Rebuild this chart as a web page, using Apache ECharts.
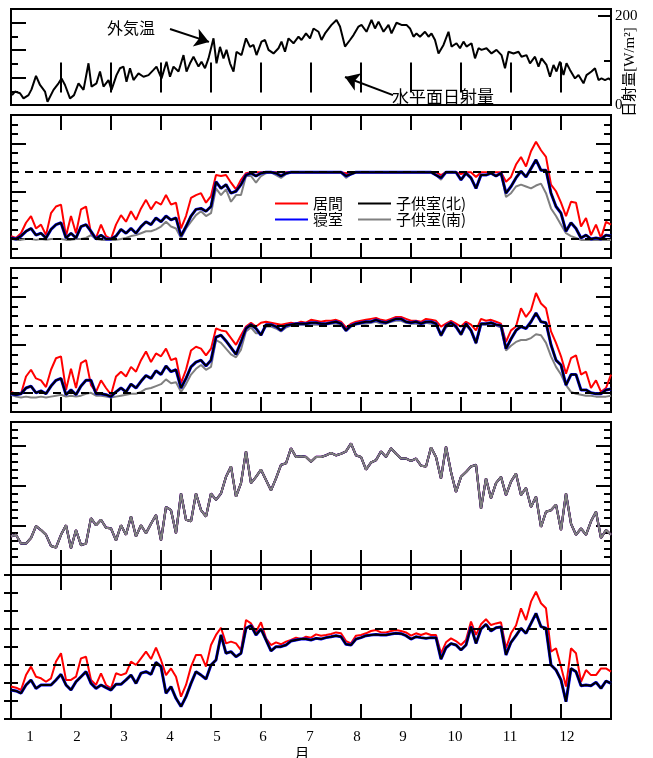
<!DOCTYPE html>
<html><head><meta charset="utf-8">
<script src="https://cdn.jsdelivr.net/npm/echarts@6/dist/echarts.min.js"></script>
<style>html,body{margin:0;padding:0;background:#fff}#chart{width:653px;height:758px}</style>
</head><body><div id="chart"></div>
<script>
// ---------------- DATA ----------------
const monthLabels = ['1','2','3','4','5','6','7','8','9','10','11','12'];
const monthLabelPos = [0.38,1.32,2.26,3.18,4.12,5.04,5.98,6.92,7.84,8.88,9.98,11.12];
const seriesNames = ['居間','寝室','子供室(北)','子供室(南)'];

// panel 1 : outdoor temperature (month position, value)
const tempMonths = [0.02,0.08,0.18,0.25,0.35,0.41,0.50,0.58,0.68,0.73,0.85,0.95,1.01,1.08,1.18,1.26,1.35,1.45,1.55,1.61,1.71,1.78,1.85,1.95,2.01,2.11,2.18,2.25,2.31,2.38,2.45,2.55,2.65,2.75,2.85,2.91,3.01,3.11,3.18,3.25,3.35,3.45,3.51,3.58,3.65,3.75,3.81,3.88,3.95,4.05,4.11,4.18,4.25,4.31,4.38,4.45,4.51,4.61,4.70,4.78,4.85,4.91,5.01,5.08,5.15,5.25,5.35,5.41,5.48,5.55,5.65,5.75,5.81,5.90,5.98,6.05,6.15,6.21,6.28,
 6.41,6.51,6.58,6.68,6.78,6.85,6.95,7.01,7.11,7.21,7.28,7.35,7.45,7.55,7.61,7.71,7.81,7.91,7.98,8.05,8.11,8.18,8.28,8.35,8.41,8.48,8.55,8.65,8.75,8.81,8.91,8.98,9.05,9.11,9.21,9.28,9.35,9.41,9.51,9.61,9.71,9.81,9.88,9.95,10.05,10.15,10.21,10.31,10.38,10.48,10.55,10.61,10.71,10.78,10.85,10.91,10.98,11.05,11.11,11.18,11.28,11.35,11.45,11.51,11.61,11.68,11.75,11.81,11.88,11.95,12.0];
const outdoorTemp = [-6.4,-5.1,-5.7,-7.6,-6.4,-4.3,0.6,-2.7,-5.1,-8.8,-4.5,-2.1,-0.3,-2.7,-7.6,-6.4,-2.1,-4.5,5.2,-3.3,-2.1,2.2,-3.3,-0.9,-4.5,0.9,3.4,4.0,-1.5,3.4,-0.9,1.5,0.3,0.9,2.8,4.0,-0.3,5.8,0.3,4.0,2.2,8.2,2.2,5.2,7.6,4.0,5.8,3.4,7.0,14.3,5.2,11.2,7.0,10.1,5.2,2.2,9.4,8.2,14.3,11.2,11.9,8.2,13.1,13.7,10.1,8.8,10.7,13.1,9.4,14.3,12.5,14.9,13.7,16.1,14.3,17.9,16.7,13.7,16.1,
 19.2,21.0,18.6,11.3,13.7,15.5,18.6,19.2,16.7,21.0,17.9,20.4,16.7,19.2,16.1,20.0,19.2,19.2,17.9,14.9,16.1,14.9,16.7,14.9,16.1,13.7,8.8,11.9,16.7,11.3,12.5,10.7,13.1,11.3,12.5,7.0,10.7,10.1,10.7,8.8,10.1,8.2,3.4,9.4,8.8,9.4,7.6,8.2,5.2,7.6,4.0,7.0,4.6,0.3,4.6,2.2,5.8,0.9,5.2,2.8,-0.3,0.9,-2.1,0.9,2.2,3.4,-0.9,-0.3,-0.9,-0.3,-0.9];

// panels 2-5 sampled every 0.1 month (121 samples)
const tempA_living = [20.3,20.1,20.6,21.7,22.4,21.1,21.5,20.4,22.7,23.4, 23.6,20.3,22.4,20.6,23.1,23.4,20.6,20.1,21.5,20.3, 20.0,21.5,22.5,21.8,22.9,22.0,23.2,24.1,23.1,23.9, 23.6,24.6,23.6,23.8,21.1,22.4,24.3,24.6,24.8,23.8, 24.5,26.7,26.6,26.7,25.9,25.2,26.2,26.9,27.0,27.0,
 27.0,27.0,27.0,27.0,27.0,27.0,27.0,27.0,27.0,27.0, 27.0,27.0,27.0,27.0,27.0,27.0,27.0,26.9,27.0,27.0, 27.0,27.0,27.0,27.0,27.0,27.0,27.0,27.0,27.0,27.0, 27.0,27.0,27.0,27.0,27.0,27.0,26.7,27.0,27.0,27.0, 26.8,27.0,27.0,26.5,27.0,27.0,27.0,27.0,27.0,26.0,
 26.5,27.8,28.6,27.6,29.2,30.2,29.3,28.6,25.7,25.0, 23.8,22.4,23.9,23.8,21.3,22.2,20.4,21.5,20.1,21.8,21.5];
const tempA_childN = [20.1,20.0,20.3,20.8,21.1,20.4,20.6,20.1,21.0,21.5, 21.7,20.1,20.6,20.1,21.3,21.5,20.8,20.0,20.4,20.0, 20.0,20.3,21.0,20.6,21.1,20.6,21.3,21.8,21.5,22.2, 21.8,22.4,22.0,22.2,20.3,21.3,22.4,23.1,23.2,22.9, 23.4,26.0,25.3,25.7,24.8,25.0,25.7,26.7,26.9,26.6,
 26.9,27.0,27.0,26.9,26.6,26.9,27.0,27.0,27.0,27.0, 27.0,27.0,27.0,27.0,27.0,27.0,27.0,26.6,26.8,27.0, 27.0,27.0,27.0,27.0,27.0,27.0,27.0,27.0,27.0,27.0, 27.0,27.0,27.0,27.0,27.0,26.7,26.4,27.0,27.0,27.0, 26.2,26.9,26.4,25.3,26.7,26.7,26.9,26.6,26.9,24.8,
 25.5,26.4,27.1,26.5,27.4,28.3,27.2,27.2,24.8,23.4, 22.7,20.8,21.7,21.1,20.1,20.4,20.0,20.1,20.0,20.4,20.3];
const tempA_childS = [20.0,19.9,19.9,20.0,20.0,19.9,20.0,19.9,20.0,20.0, 20.0,19.9,19.9,20.0,20.0,20.1,20.4,20.0,19.9,19.9, 19.9,19.9,20.0,20.1,20.3,20.4,20.6,20.8,20.8,21.0, 21.3,21.8,21.3,21.1,20.1,21.1,21.8,22.5,22.9,22.4, 22.7,25.3,24.6,25.2,23.9,24.6,24.6,26.6,26.6,25.9,
 26.6,26.9,27.0,26.7,26.4,26.8,27.0,27.0,27.0,27.0, 27.0,27.0,27.0,27.0,27.0,27.0,27.0,26.4,26.8,27.0, 27.0,27.0,27.0,27.0,27.0,27.0,27.0,27.0,27.0,27.0, 27.0,27.0,27.0,27.0,27.0,26.7,26.2,27.0,27.0,27.0, 26.2,26.9,26.4,25.3,26.7,26.7,26.9,26.6,26.9,24.4,
 24.8,25.5,25.7,25.5,25.3,25.6,25.8,24.8,23.2,22.4, 21.5,20.6,20.3,20.1,19.9,19.9,19.9,19.9,19.9,19.9,19.9];

const tempB_living = [20.1,19.9,19.9,21.7,22.4,21.5,21.3,20.6,22.4,23.6, 23.8,20.3,22.5,20.5,23.1,23.4,20.8,20.1,21.3,20.5, 19.8,21.7,22.2,21.7,22.7,22.2,23.4,24.3,23.2,24.1, 23.8,24.6,23.4,23.6,21.0,22.4,24.4,24.8,24.6,23.9, 24.6,26.7,26.5,26.4,25.7,25.0,26.0,26.9,27.3,26.9,
 27.3,27.4,27.3,27.2,27.1,27.2,27.3,27.2,27.4,27.3, 27.6,27.5,27.4,27.5,27.5,27.6,27.4,26.8,27.2,27.4, 27.5,27.6,27.7,27.8,27.6,27.5,27.7,27.9,27.9,27.7, 27.5,27.5,27.4,27.7,27.6,27.5,26.9,27.2,27.5,27.2, 26.9,27.4,27.1,26.5,27.7,27.5,27.6,27.4,27.2,25.3,
 26.5,26.9,28.8,27.9,28.6,30.4,29.3,28.8,26.4,25.2, 23.8,22.0,23.6,23.9,21.9,22.2,20.5,21.3,20.1,20.5,21.9];
const tempB_childN = [19.9,19.8,19.9,20.5,20.7,20.0,20.2,19.9,20.7,21.3, 21.5,19.8,20.3,19.8,20.7,21.3,21.3,19.9,19.9,19.8, 19.6,20.1,20.5,20.1,20.9,20.5,21.2,21.8,21.5,22.3, 21.9,22.8,22.2,22.4,20.5,21.5,22.7,23.2,23.4,22.8, 23.4,25.8,26.0,25.4,24.7,24.0,25.3,26.7,27.1,26.7,
 26.0,27.1,27.1,26.9,26.5,27.0,27.1,27.2,27.2,27.2, 27.3,27.3,27.2,27.2,27.3,27.4,27.2,26.5,27.0,27.2, 27.3,27.4,27.4,27.6,27.4,27.3,27.5,27.7,27.7,27.4, 27.3,27.4,27.2,27.4,27.4,27.2,26.0,27.0,27.3,26.9, 26.1,27.2,26.5,25.2,27.2,27.2,27.3,27.1,27.0,24.6,
 25.6,26.5,26.9,26.7,27.4,28.3,27.4,27.3,25.0,23.4, 22.9,20.8,21.9,21.9,20.3,20.3,20.0,19.9,19.9,20.3,20.4];
const tempB_childS = [19.8,19.6,19.5,19.6,19.5,19.5,19.6,19.5,19.6,19.7, 19.8,19.6,19.7,19.6,19.7,19.9,20.0,19.7,19.7,19.6, 19.5,19.6,19.7,19.8,19.9,19.9,20.1,20.4,20.5,20.7, 20.9,21.4,21.0,21.1,20.1,20.9,21.9,22.5,22.9,22.4, 22.7,25.5,25.2,24.6,24.0,23.7,24.5,26.4,26.8,26.2,
 26.2,26.9,26.9,26.7,26.4,26.8,27.0,27.1,27.1,27.1, 27.1,27.1,27.1,27.1,27.2,27.2,27.1,26.4,26.9,27.1, 27.2,27.2,27.3,27.4,27.2,27.2,27.4,27.5,27.5,27.3, 27.2,27.2,27.0,27.3,27.2,27.1,25.9,26.8,27.2,26.8, 26.0,27.0,26.5,25.1,27.1,27.1,27.2,27.0,26.8,24.4,
 24.9,25.3,25.5,25.5,25.7,26.1,26.0,25.2,23.8,22.7, 21.9,20.8,20.1,19.9,19.8,19.7,19.7,19.6,19.6,19.6,19.7];

const humidityAll = [3.6,3.8,2.7,2.7,3.4,4.9,4.4,3.8,2.4,2.2, 3.8,5.0,2.1,4.4,2.5,2.7,5.9,5.0,5.7,4.7, 4.6,3.1,5.0,3.8,6.1,3.6,5.0,4.0,5.2,6.3, 3.1,7.3,6.9,4.0,9.0,5.7,5.5,9.0,6.9,6.1, 9.0,8.2,9.0,11.1,12.4,8.6,10.3,14.3,10.3,11.1,
 12.0,10.7,9.4,10.9,12.6,12.8,14.7,13.6,13.7,13.6, 13.0,13.6,13.6,13.8,14.1,13.8,14.0,14.3,15.3,13.8, 13.6,12.0,12.9,13.2,14.3,13.6,14.7,14.0,13.4,13.4, 13.1,13.4,12.5,12.4,14.8,13.6,10.9,14.9,11.7,9.2, 11.1,11.7,12.4,12.6,7.1,10.9,8.4,10.3,11.1,8.8,
 10.5,11.5,8.8,9.7,7.3,8.6,4.8,6.7,6.9,7.6, 4.4,9.0,5.2,3.8,4.6,3.8,5.5,6.7,3.4,4.4,3.8];

const rh_living = [28.0,27.4,26.1,34.4,39.1,33.5,32.6,30.7,32.6,41.9, 46.5,31.7,31.7,33.5,43.7,44.6,31.7,28.9,35.4,28.9, 27.0,35.4,34.4,35.4,41.9,40.0,43.7,47.4,43.3,49.6, 42.8,34.4,38.1,33.5,22.4,28.9,39.1,45.6,45.6,39.1, 51.1,56.7,60.7,52.0,53.0,52.0,48.3,65.0,63.1,58.5,
 63.7,54.8,51.1,52.6,51.5,53.0,53.9,55.2,54.4,55.7, 55.2,57.0,56.3,56.7,57.2,58.1,57.6,53.3,52.0,56.3, 56.7,57.6,58.9,59.4,58.1,58.1,58.9,59.4,58.9,58.1, 56.3,57.6,56.7,57.6,56.7,56.7,46.5,52.6,54.8,53.3, 51.1,53.9,64.1,56.7,62.6,65.4,62.2,63.1,63.7,49.3,
 57.6,61.9,71.5,65.0,75.2,80.7,74.3,71.5,47.4,49.3, 39.1,28.0,49.3,46.5,30.7,37.2,34.4,34.4,38.1,38.1,36.3];
const rh_childN = [26.1,25.6,24.3,28.9,31.7,27.0,28.9,28.9,28.9,31.7, 34.8,28.9,26.1,30.7,33.5,36.3,29.8,27.0,28.9,27.4, 26.1,29.3,29.3,31.7,34.4,29.8,35.4,36.3,34.8,41.5, 39.1,24.3,28.0,21.5,16.9,22.4,29.8,36.3,34.4,32.2, 40.0,42.8,56.7,46.5,47.4,44.6,46.5,60.4,61.9,56.7,
 60.0,53.9,47.8,50.2,50.2,51.1,53.3,53.9,54.4,54.4, 53.9,54.8,54.4,55.2,55.7,56.3,55.7,51.5,51.1,54.4, 55.2,56.3,56.7,57.0,56.7,56.7,57.2,57.6,57.4,56.3, 54.4,55.7,55.2,54.8,55.2,55.2,43.3,49.6,51.9,51.1, 48.3,51.1,61.3,52.0,60.0,62.6,58.9,60.7,61.1,45.6,
 52.6,56.3,60.4,57.6,63.1,68.7,61.3,60.4,40.0,37.2, 31.7,19.6,38.1,36.3,28.5,28.9,28.5,30.4,27.0,31.1,29.8];

// ---------------- CHART ----------------
const monthGrid = Array.from({length: 121}, (_, k) => k / 10);
const pairs = (xs, ys) => xs.map((x, i) => [x, ys[i]]);

const SERIF = '"Liberation Serif", "Noto Sans CJK JP", serif';
const GOTHIC = '"Noto Sans CJK JP", sans-serif';
const COLORS = {'居間':'#ff0000','寝室':'#0000ff','子供室(北)':'#000000','子供室(南)':'#808080'};

const panels = [[9,96],[115,143],[268,144],[422,143],[575,144]];
const grid = panels.map(([t,h]) => ({left:11, right:42, top:t, height:h, show:true,
  borderColor:'#000', borderWidth:2, backgroundColor:'transparent', containLabel:false, outerBoundsMode:'none'}));

const tickStyle = {color:'#000', width:2};
const xAxis = [];
panels.forEach((p, i) => {
  ['bottom','top'].forEach(pos => xAxis.push({gridIndex:i, type:'value', position:pos, min:0, max:12, interval:1,
    axisLine:{show:false}, splitLine:{show:false}, axisLabel:{show:false},
    axisTick:{show:true, inside:true, length:15, lineStyle:tickStyle}}));
});
Object.assign(xAxis[8], {
  axisLabel:{show:true, customValues: monthLabelPos, margin:11, color:'#000', fontFamily:SERIF, fontSize:15,
    formatter: v => { let b=0; monthLabelPos.forEach((p,j)=>{ if (Math.abs(p-v) < Math.abs(monthLabelPos[b]-v)) b=j; }); return monthLabels[b]; }},
  name:'月', nameLocation:'middle', nameGap:25,
  nameTextStyle:{color:'#000', fontFamily:GOTHIC, fontSize:15, padding:[0,18,0,0]}
});

const yAxis = [];
function addY(gi, pos, min, max, tick, extra) {
  yAxis.push(Object.assign({gridIndex:gi, type:'value', position:pos, min, max,
    axisLine:{show:false}, splitLine:{show:false}, axisLabel:{show:false},
    axisTick:Object.assign({show:true, inside:true, lineStyle:tickStyle}, tick)}, extra || {}));
  return yAxis.length - 1;
}
// panel 1
const yTemp = addY(0,'left',-10,25,{length:15},{interval:10});
addY(0,'left',-10,25,{length:7},{interval:5});
addY(0,'right',0,216,{length:13, customValues:[200]},
  {axisLabel:{show:true, customValues:[0,200], margin:4, color:'#000', fontFamily:SERIF, fontSize:15}});
addY(0,'right',0,216,{length:7, customValues:[100]});
// panels 2,3 (room temperature), 4 (humidity)
function roomAxes(gi, min, max, majors) {
  const idx = addY(gi,'left',min,max,{length:15, customValues:majors});
  addY(gi,'left',min,max,{length:7},{interval:1});
  addY(gi,'right',min,max,{length:15, customValues:majors});
  addY(gi,'right',min,max,{length:7},{interval:1});
  return idx;
}
const yP2 = roomAxes(1,18,33,[20,25,30]);
const yP3 = roomAxes(2,18,33,[20,25,30]);
const yP4 = roomAxes(3,0,18,[5,10,15]);
const yP5 = addY(4,'left',10,90,{length:7},{interval:10});
addY(4,'right',10,90,{length:7},{interval:10});

function line(name, xi, yi, data, width, extra) {
  return Object.assign({name, type:'line', xAxisIndex:xi, yAxisIndex:yi, data, symbol:'none', showSymbol:false,
    animation:false, silent:true,
    itemStyle:{color:COLORS[name]}, lineStyle:{color:COLORS[name], width:width}}, extra || {});
}
function dashed(vals) {
  return {markLine:{silent:true, symbol:['none','none'], label:{show:false}, animation:false,
    lineStyle:{color:'#000', type:[8,6], width:2}, data: vals.map(v => ({yAxis:v}))}};
}

const series = [];
// panel 1
series.push({name:'外気温', type:'line', xAxisIndex:0, yAxisIndex:yTemp, data:pairs(tempMonths, outdoorTemp),
  symbol:'none', animation:false, silent:true, lineStyle:{color:'#000', width:2}, itemStyle:{color:'#000'},
  markLine:{silent:true, animation:false, symbol:['none','arrow'], symbolSize:14, label:{show:false},
    lineStyle:{color:'#000', type:'solid', width:2},
    data:[[{coord:[3.18,17.7]},{coord:[3.96,13.0]}],[{coord:[7.64,-6.4]},{coord:[6.68,0.2]}]]}});
// panel 2
series.push(line('居間',2,yP2,pairs(monthGrid,tempA_living),2));
series.push(line('子供室(南)',2,yP2,pairs(monthGrid,tempA_childS),2));
series.push(line('寝室',2,yP2,pairs(monthGrid,tempA_childN),3));
series.push(line('子供室(北)',2,yP2,pairs(monthGrid,tempA_childN),2,dashed([27,20])));
// panel 3
series.push(line('居間',4,yP3,pairs(monthGrid,tempB_living),2));
series.push(line('子供室(南)',4,yP3,pairs(monthGrid,tempB_childS),2));
series.push(line('寝室',4,yP3,pairs(monthGrid,tempB_childN),3));
series.push(line('子供室(北)',4,yP3,pairs(monthGrid,tempB_childN),2,dashed([27,20])));
// panel 4
series.push(line('居間',6,yP4,pairs(monthGrid,humidityAll),2.2));
series.push(line('寝室',6,yP4,pairs(monthGrid,humidityAll),2.2));
series.push(line('子供室(北)',6,yP4,pairs(monthGrid,humidityAll),2));
series.push(line('子供室(南)',6,yP4,pairs(monthGrid,humidityAll),2));
// panel 5
series.push(line('居間',8,yP5,pairs(monthGrid,rh_living),2));
series.push(line('寝室',8,yP5,pairs(monthGrid,rh_childN),3));
series.push(line('子供室(北)',8,yP5,pairs(monthGrid,rh_childN),2,dashed([60,40])));

const legendBase = {orient:'horizontal', left:275, icon:'rect', itemWidth:33, itemHeight:2, itemGap:15, padding:0,
  selectedMode:false, textStyle:{fontSize:15, fontFamily:GOTHIC, color:'#000'}};
const legend = [
  Object.assign({}, legendBase, {top:196, data:[seriesNames[0], seriesNames[2]]}),
  Object.assign({}, legendBase, {top:212, data:[seriesNames[1], seriesNames[3]]})
];

const graphic = [
  {type:'text', left:107, top:20, style:{text:'外気温', fill:'#000', fontSize:16, fontFamily:GOTHIC}},
  {type:'text', left:392, top:88, style:{text:'水平面日射量', fill:'#000', fontSize:17, fontFamily:GOTHIC}},
  {type:'text', x:630, y:72, rotation:Math.PI/2,
    style:{text:'日射量[W/m²]', fill:'#000', fontSize:15, fontFamily:SERIF, align:'center', verticalAlign:'middle'}}
];

const chart = echarts.init(document.getElementById('chart'), null, {renderer:'canvas'});
chart.setOption({backgroundColor:'#fff', animation:false, grid, xAxis, yAxis, series, legend, graphic});
</script></body></html>
